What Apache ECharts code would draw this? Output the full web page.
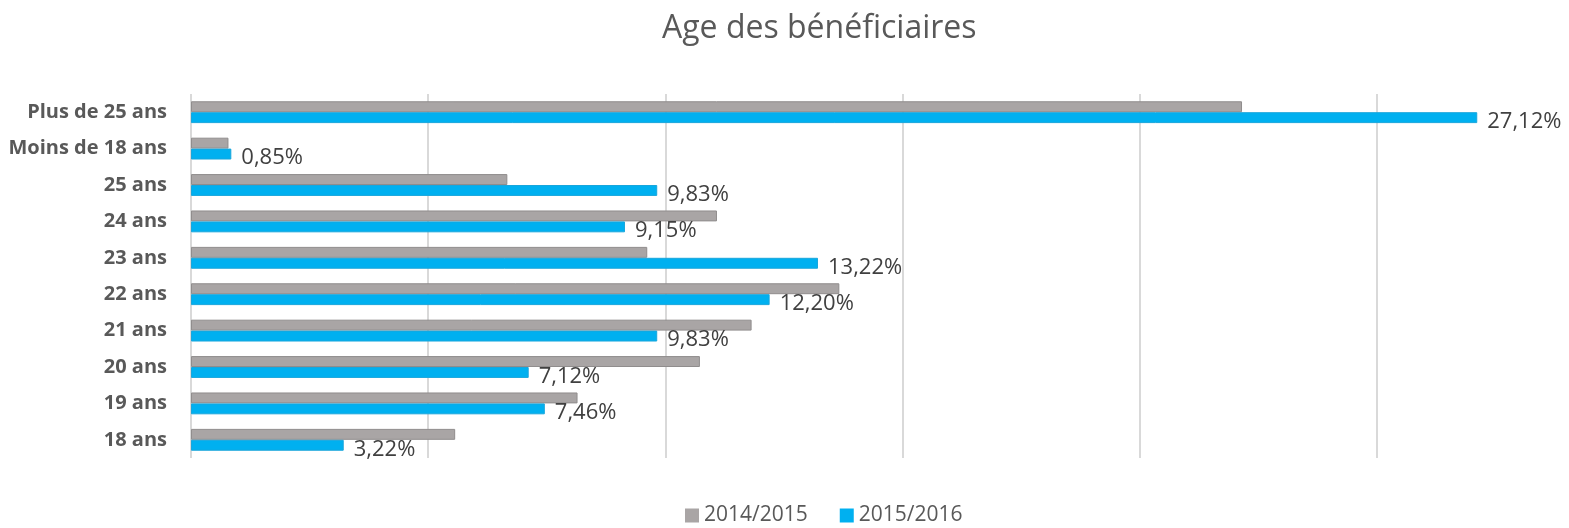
<!DOCTYPE html>
<html>
<head>
<meta charset="utf-8">
<script src="https://cdn.jsdelivr.net/npm/echarts@6/dist/echarts.min.js"></script>
<style>
  html, body { margin: 0; padding: 0; background: #fff; }
  #chart { width: 1569px; height: 528px; }
</style>
</head>
<body>
<div id="chart"></div>
<script>
const categories = ['Plus de 25 ans', 'Moins de 18 ans', '25 ans', '24 ans', '23 ans', '22 ans', '21 ans', '20 ans', '19 ans', '18 ans'];
const values2014 = [22.16, 0.79, 6.67, 11.09, 9.62, 13.67, 11.82, 10.73, 8.15, 5.57];
const values2015 = [27.12, 0.85, 9.83, 9.15, 13.22, 12.20, 9.83, 7.12, 7.46, 3.22];
const gridValues = [0, 5, 10, 15, 20, 25];

const chart = echarts.init(document.getElementById('chart'));

const fmt = v => v.toFixed(2).replace('.', ',') + '%';

chart.setOption({
  animation: false,
  title: {
    text: 'Age des bénéficiaires',
    left: 657,
    top: 8,
    textStyle: {
      fontFamily: 'Open Sans',
      fontSize: 32,
      fontWeight: 'normal',
      color: '#595959'
    }
  },
  legend: {
    bottom: -3,
    left: 680,
    icon: 'rect',
    itemWidth: 14,
    itemHeight: 14,
    itemGap: 32,
    itemStyle: { borderWidth: 0 },
    textStyle: {
      fontFamily: 'Open Sans',
      fontSize: 21,
      color: '#595959'
    },
    data: ['2014/2015', '2015/2016']
  },
  grid: {
    left: 191,
    top: 94,
    height: 364,
    width: 1328
  },
  xAxis: {
    type: 'value',
    min: 0,
    max: 28,
    interval: 5,
    axisLabel: { show: false },
    axisLine: { show: false },
    axisTick: { show: false },
    splitLine: { show: false }
  },
  yAxis: {
    type: 'category',
    inverse: true,
    data: categories,
    axisLine: { show: false },
    axisTick: { show: false },
    axisLabel: {
      margin: 24,
      fontFamily: 'Open Sans',
      fontWeight: 'bold',
      fontSize: 20,
      color: '#595959'
    }
  },
  series: [
    {
      // vertical gridlines, drawn behind the bars
      name: 'grid',
      type: 'line',
      data: [],
      silent: true,
      z: 1,
      markLine: {
        silent: true,
        z: 1,
        symbol: 'none',
        label: { show: false },
        lineStyle: { color: '#d9d9d9', type: 'solid', width: 2 },
        data: gridValues.map(v => ({ xAxis: v }))
      }
    },
    {
      name: '2014/2015',
      type: 'bar',
      data: values2014,
      barGap: '0%',
      barCategoryGap: '40%',
      itemStyle: {
        color: '#a9a5a5',
        borderColor: '#908d8d',
        borderWidth: 1
      },
      z: 10
    },
    {
      name: '2015/2016',
      type: 'bar',
      data: values2015,
      itemStyle: {
        color: '#00b0f0',
        borderColor: '#18a6dc',
        borderWidth: 1
      },
      label: {
        show: true,
        position: 'right',
        distance: 10,
        offset: [0, 4],
        formatter: p => fmt(p.value),
        fontFamily: 'Open Sans',
        fontSize: 22,
        color: '#404040'
      },
      z: 10
    }
  ]
});
</script>
</body>
</html>
